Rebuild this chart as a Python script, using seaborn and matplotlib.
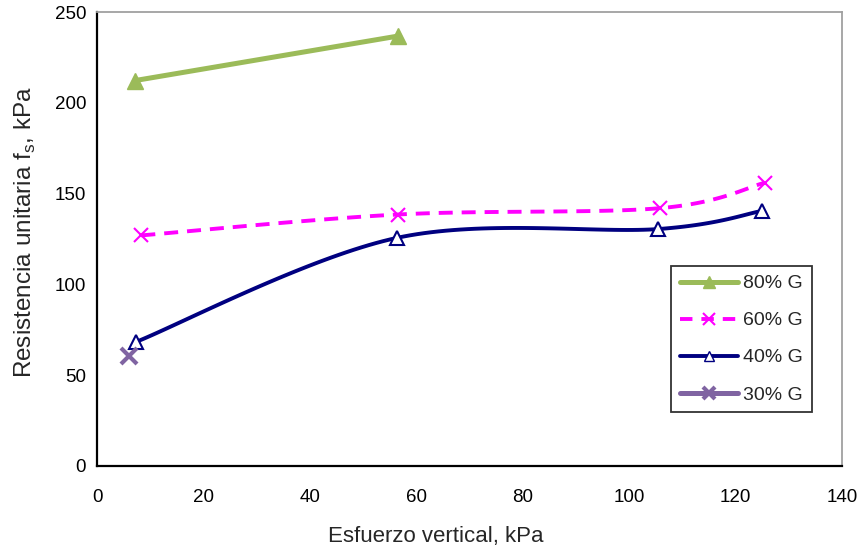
import numpy as np
import pandas as pd
import seaborn as sns
import matplotlib
matplotlib.use("Agg")
import matplotlib.pyplot as plt
from matplotlib.lines import Line2D
from matplotlib.ticker import MultipleLocator

sns.set_style("white")
plt.rcParams['font.family'] = ['Liberation Sans', 'DejaVu Sans']

# Data
x80 = [7.1, 56.5]
y80 = [212.3, 236.8]
x60 = [8.3, 56.5, 105.8, 125.5]
y60 = [127.0, 138.5, 142.0, 156.0]
x40 = [7.3, 56.3, 105.5, 125.0]
y40 = [68.3, 125.6, 130.5, 140.5]
x30 = [6.0]
y30 = [60.5]
labels = ["80% G", "60% G", "40% G", "30% G"]


def smooth(xs, ys, n=40):
    """Excel-style smoothed line (Catmull-Rom Bezier through the points)."""
    P = np.column_stack([xs, ys]).astype(float)
    out = []
    m = len(P)
    for i in range(m - 1):
        p0 = P[i - 1] if i > 0 else P[i]
        p1 = P[i]
        p2 = P[i + 1]
        p3 = P[i + 2] if i + 2 < m else P[i + 1]
        c1 = p1 + (p2 - p0) / 6.0
        c2 = p2 - (p3 - p1) / 6.0
        t = np.linspace(0, 1, n)[:, None]
        seg = ((1 - t) ** 3) * p1 + 3 * ((1 - t) ** 2) * t * c1 + 3 * (1 - t) * t ** 2 * c2 + t ** 3 * p2
        out.append(seg if i == 0 else seg[1:])
    s = np.vstack(out)
    return s[:, 0], s[:, 1]


c80 = "#9BBB59"
c60 = "#FF00FF"
c40 = "#000080"
c30 = "#8064A2"

fig, ax = plt.subplots(figsize=(8.6, 5.52), dpi=100)
fig.subplots_adjust(left=0.113, right=0.979, top=0.978, bottom=0.156)

# 80% G
sns.lineplot(x=x80, y=y80, ax=ax, color=c80, lw=3.6, sort=False, estimator=None)
ax.plot(x80, y80, ls="none", marker="^", ms=11, color=c80)

# 60% G smoothed dashed
sx, sy = smooth(x60, y60)
sns.lineplot(x=sx, y=sy, ax=ax, color=c60, lw=2.8, sort=False, estimator=None)
ax.lines[-1].set_dashes([3.6, 2.3])
ax.plot(x60, y60, ls="none", marker="x", ms=10, mew=1.5, color=c60)

# 40% G smoothed solid
sx, sy = smooth(x40, y40)
sns.lineplot(x=sx, y=sy, ax=ax, color=c40, lw=2.8, sort=False, estimator=None)
ax.plot(x40, y40, ls="none", marker="^", ms=9.5, mfc="white", mec=c40, mew=1.5, color=c40)

# 30% G
ax.plot(x30, y30, ls="none", marker="x", ms=11, mew=3, color=c30)

ax.set_xlim(0, 140)
ax.set_ylim(0, 250)
ax.xaxis.set_major_locator(MultipleLocator(20))
ax.xaxis.set_minor_locator(MultipleLocator(4))
ax.yaxis.set_major_locator(MultipleLocator(50))
ax.yaxis.set_minor_locator(MultipleLocator(10))
ax.tick_params(axis="both", which="both", direction="in", labelsize=13.5, colors="black")
ax.tick_params(which="major", length=6, width=1.3)
ax.tick_params(which="minor", length=4, width=1.0)
ax.tick_params(axis="x", pad=17)
ax.tick_params(axis="y", pad=8)
ax.tick_params(top=False, right=False, which="both")

for side in ["left", "bottom"]:
    ax.spines[side].set_color("black")
    ax.spines[side].set_linewidth(1.6)
for side in ["top", "right"]:
    ax.spines[side].set_color("#A0A0A0")
    ax.spines[side].set_linewidth(1.3)

ax.set_xlabel("Esfuerzo vertical, kPa", fontsize=16)
ax.xaxis.set_label_coords(0.454, -0.133)
ax.set_ylabel("Resistencia unitaria f$_\\mathregular{s}$, kPa", fontsize=17.5)
ax.yaxis.set_label_coords(-0.079, 0.515)

handles = [
    Line2D([], [], color=c80, lw=3.6, marker="^", ms=9),
    Line2D([], [], color=c60, lw=2.8, dashes=[3.2, 2.3], marker="x", ms=8, mew=1.5),
    Line2D([], [], color=c40, lw=2.8, marker="^", ms=7.5, mfc="white", mec=c40),
    Line2D([], [], color=c30, lw=3.6, marker="x", ms=8, mew=3),
]
leg = ax.legend(handles, labels, loc="upper left", bbox_to_anchor=(0.7705, 0.4405),
                borderaxespad=0, fontsize=14, frameon=True, fancybox=False,
                edgecolor="black", handlelength=3.0, labelspacing=1.0,
                borderpad=0.45, handletextpad=0.25)
leg.get_frame().set_linewidth(1.3)

fig.savefig("out.png", dpi=100)
